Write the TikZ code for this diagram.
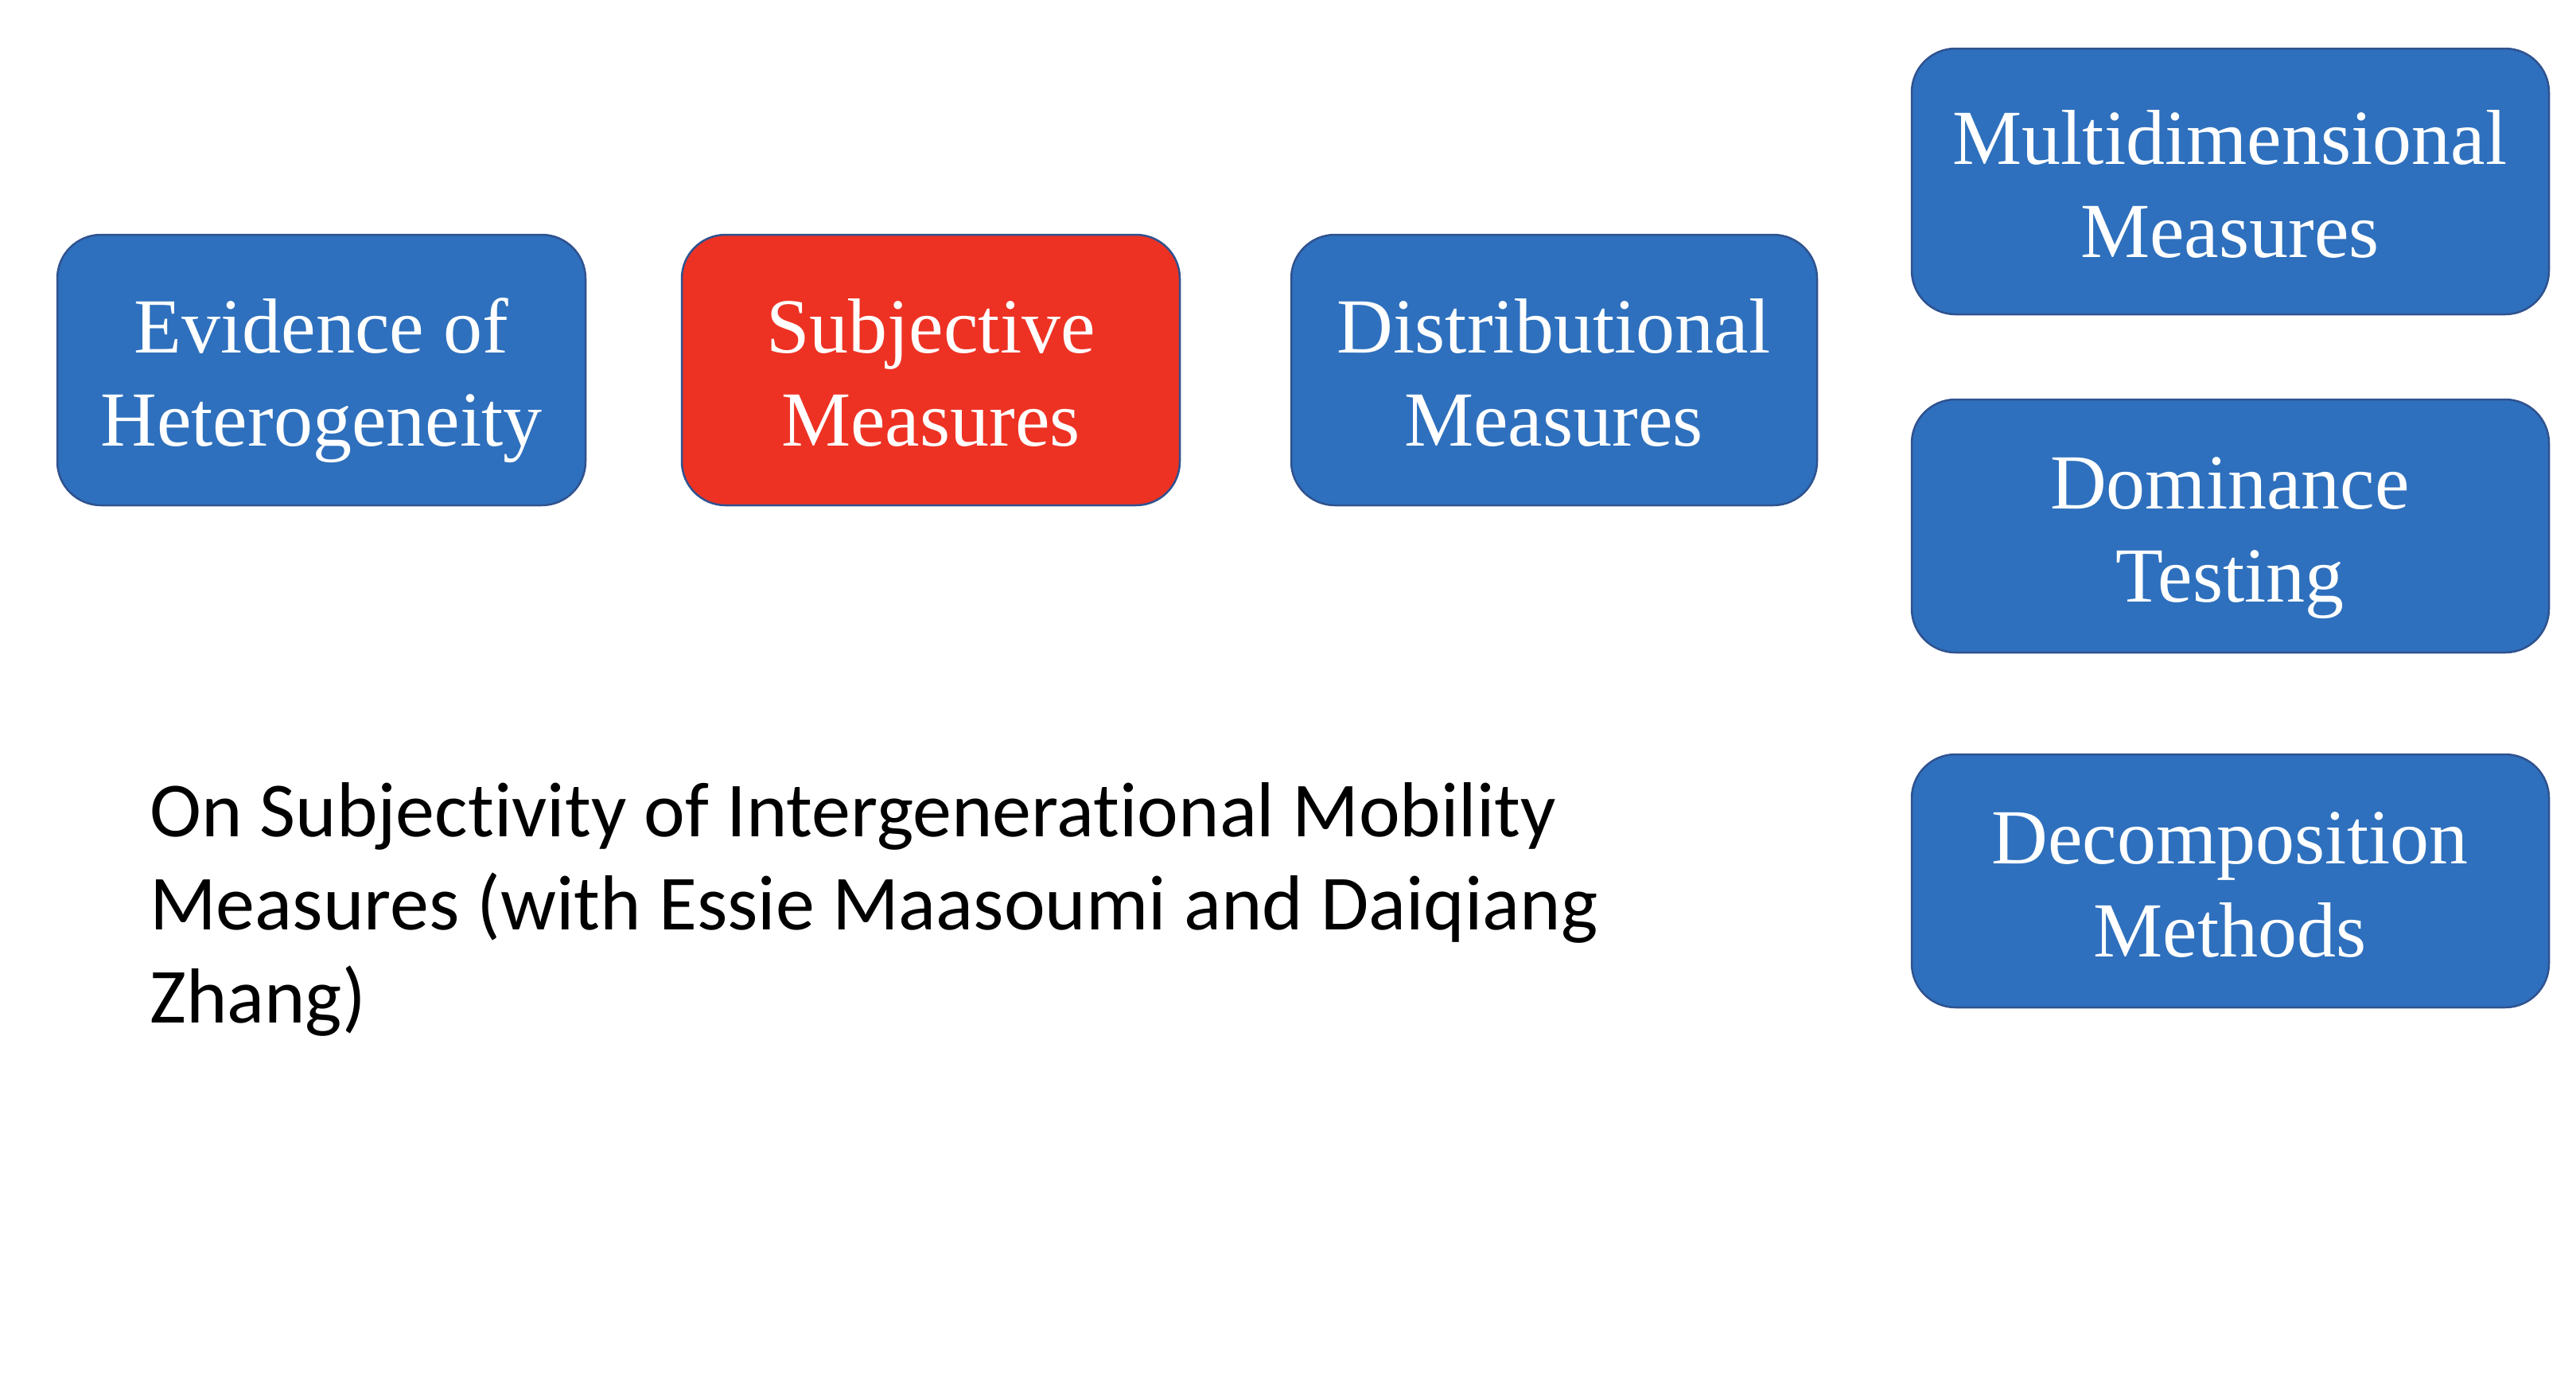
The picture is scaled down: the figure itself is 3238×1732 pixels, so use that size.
\documentclass[tikz,border=0pt]{standalone}
\usepackage{fontspec}
\setmainfont{Liberation Serif}
\newfontfamily\notefont[Ligatures={NoCommon,NoContextual},Contextuals=NoAlternate]{Carlito}
\definecolor{boxblue}{RGB}{46,112,189}
\definecolor{boxred}{RGB}{237,50,36}
\definecolor{edgeblue}{RGB}{47,82,143}
\begin{document}
\begin{tikzpicture}[x=1pt,y=-1pt,
  topic/.style={draw=edgeblue, line width=2.5pt, rounded corners=55pt,
    fill=boxblue},
  focus/.style={topic, fill=boxred},
  label/.style={text=white, align=center, anchor=base, inner sep=0pt,
    font=\fontsize{98}{117}\selectfont}]
\useasboundingbox (0,0) rectangle (3238,1732);
\fill[white] (0,0) rectangle (3238,1732);
% left row of topics (label anchored on the baseline of its second line)
\draw[topic] (72,295) rectangle (736,635);
\node[label] (evid) at (404,560) {Evidence of\\Heterogeneity};
\draw[focus] (857,295) rectangle (1483,635);
\node[label] (subj) at (1170,560) {Subjective\\Measures};
\draw[topic] (1623,295) rectangle (2284,635);
\node[label] (dist) at (1953,560) {Distributional\\Measures};
% right column of topics
\draw[topic] (2403,61) rectangle (3204,395);
\node[label] (multi) at (2803,323) {Multidimensional\\Measures};
\draw[topic] (2403,502) rectangle (3204,820);
\node[label] (domin) at (2803,756) {Dominance\\Testing};
\draw[topic] (2403,948) rectangle (3204,1266);
\node[label] (decomp) at (2803,1202) {Decomposition\\Methods};
% paper reference, anchored on its last baseline
\node[anchor=base west, align=left, inner sep=0pt,
  font=\notefont\fontsize{98}{117}\selectfont] (paper) at (188,1285)
  {On Subjectivity of Intergenerational Mobility\\Measures (with Essie Maasoumi and Daiqiang\\Zhang)};
\end{tikzpicture}
\end{document}
